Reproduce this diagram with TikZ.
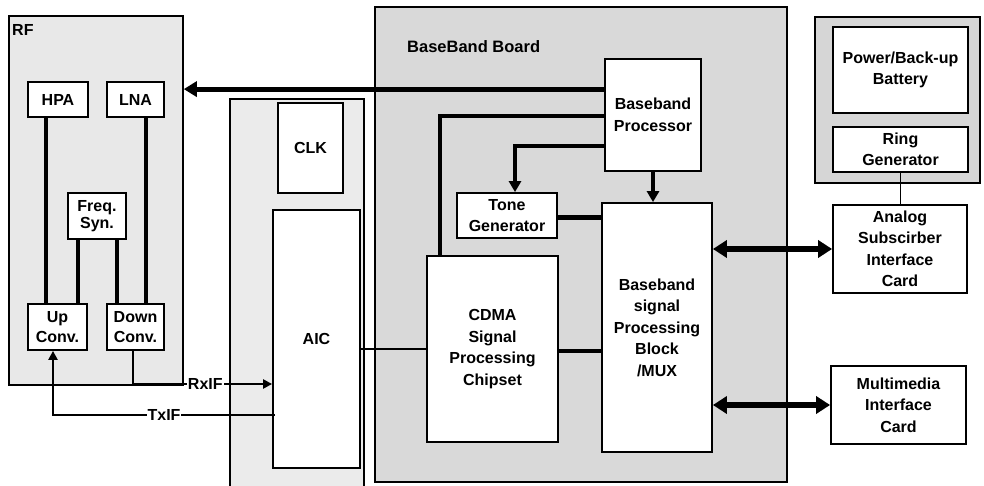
\documentclass[tikz,border=0pt]{standalone}
\usepackage{fontspec}
\setmainfont{Liberation Sans}
\usetikzlibrary{arrows.meta,calc}
\begin{document}
\begin{tikzpicture}[x=1pt,y=-1pt,
  board/.style={draw=black, line width=1.6pt, rectangle, inner sep=0pt},
  box/.style={draw=black, fill=white, line width=1.8pt, rectangle, inner sep=0pt, align=center, font=\fontsize{16}{21.5}\selectfont\bfseries},
  lbl/.style={inner sep=0pt, font=\fontsize{16}{20}\selectfont\bfseries},
  iflbl/.style={fill=white, inner sep=1pt, font=\fontsize{16}{20}\selectfont\bfseries},
  bigarrow/.style={line width=5pt, -{Triangle[length=13pt,width=15pt]}},
  dblarrow/.style={line width=5.5pt, {Triangle[length=14pt,width=17pt]}-{Triangle[length=14pt,width=17pt]}},
  midarrow/.style={line width=4pt, -{Triangle[length=11pt,width=12pt]}},
  thickln/.style={line width=4.5pt},
  medln/.style={line width=3.5pt},
  thinln/.style={line width=1.6pt},
  thinarrow/.style={line width=2.2pt, -{Triangle[length=9pt,width=9pt]}}
]
\useasboundingbox (0,0) rectangle (984,486);

% boards
\node[board, fill=black!9, minimum width=174pt, minimum height=369pt] (rf) at (96,200.5) {};
\node[board, fill=black!8, minimum width=134pt, minimum height=393pt] (aicb) at (297,295.5) {};
\node[board, fill=black!15, minimum width=412pt, minimum height=475pt] (bb) at (581,244.5) {};
\node[board, fill=black!16, minimum width=165pt, minimum height=166pt] (pwr) at (897.5,100) {};

\node[lbl, anchor=west] (rflbl) at (12,30) {RF};
\node[lbl, anchor=west, font=\fontsize{16.5}{20}\selectfont\bfseries] (bblbl) at (407,47) {BaseBand Board};

% RF boxes
\node[box, minimum width=60pt, minimum height=35pt] (hpa) at (58,99.5) {HPA};
\node[box, minimum width=57pt, minimum height=35pt] (lna) at (135.5,99.5) {LNA};
\node[box, minimum width=58pt, minimum height=46pt, font=\fontsize{16}{17.5}\selectfont\bfseries] (freq) at (97,216) {Freq.\\Syn.};
\node[box, minimum width=59pt, minimum height=46pt, font=\fontsize{16}{19.5}\selectfont\bfseries] (up) at (57.5,327) {Up\\Conv.};
\node[box, minimum width=57pt, minimum height=46pt, font=\fontsize{16}{19.5}\selectfont\bfseries] (down) at (135.5,327) {Down\\Conv.};

% AIC board boxes
\node[box, minimum width=65pt, minimum height=90pt] (clk) at (310.5,148) {CLK};
\node[box, minimum width=87pt, minimum height=258pt] (aic) at (316.5,339) {AIC};

% baseband boxes
\node[box, minimum width=96pt, minimum height=112pt] (bp) at (653,115) {Baseband\\Processor};
\node[box, minimum width=100pt, minimum height=45pt] (tone) at (507,215.5) {Tone\\Generator};
\node[box, minimum width=110pt, minimum height=249pt] (bsp) at (657,327.5) {Baseband\\signal\\Processing\\Block\\/MUX};
\node[box, minimum width=131pt, minimum height=186pt] (cdma) at (492.5,349) {CDMA\\Signal\\Processing\\Chipset};

% power board boxes
\node[box, minimum width=135pt, minimum height=86pt] (batt) at (900.5,70) {Power/Back-up\\Battery};
\node[box, minimum width=135pt, minimum height=45pt] (ring) at (900.5,149.5) {Ring\\Generator};
\node[box, minimum width=134pt, minimum height=88pt] (analog) at (900,249) {Analog\\Subscirber\\Interface\\Card};
\node[box, minimum width=135pt, minimum height=78pt] (mm) at (898.5,405) {Multimedia\\Interface\\Card};

% RF internal connectors
\draw[medln] ([xshift=-12pt]hpa.south) -- ([xshift=-12pt]hpa.south |- up.north);
\draw[thickln] ([xshift=10.5pt]lna.south) -- ([xshift=10.5pt]lna.south |- down.north);
\draw[thickln] ([xshift=-19pt]freq.south) -- ([xshift=-19pt]freq.south |- up.north);
\draw[thickln] ([xshift=20pt]freq.south) -- ([xshift=20pt]freq.south |- down.north);

% IF connectors
\coordinate (rxin) at ($(aic.west)+(0,45)$);
\draw[thinarrow] ([xshift=-2.5pt]down.south) |- node[pos=0.76, iflbl] (rxlbl) {RxIF} (rxin);
\coordinate (txout) at ($(aic.west)+(3,76)$);
\draw[thinarrow] (txout) -| node[pos=0.25, iflbl] (txlbl) {TxIF} ([xshift=-4.5pt]up.south);

% baseband connectors
\coordinate (bpa) at ($(bp.north west)+(0,31)$);
\coordinate (bpb) at ($(bp.north west)+(0,58)$);
\coordinate (bpc) at ($(bp.north west)+(0,88)$);
\draw[bigarrow] (bpa) -- (bpa -| rf.east);
\draw[thickln] (bpb) -| ([xshift=-52.5pt]cdma.north);
\draw[midarrow] (bpc) -| ([xshift=8pt]tone.north);
\draw[midarrow] (bp.south) -- (bp.south |- bsp.north);
\draw[thickln] ([yshift=-2pt]tone.east) -- ([yshift=-2pt]tone.east -| bsp.west);
\draw[thickln] ([yshift=-2pt]cdma.east) -- ([yshift=-2pt]cdma.east -| bsp.west);
\draw[thinln] (aic.east |- cdma.west) -- (cdma.west);

% right side connectors
\draw[thinln] (ring.south) -- (ring.south |- analog.north);
\draw[dblarrow] (bsp.east |- analog.west) -- (analog.west);
\draw[dblarrow] (bsp.east |- mm.west) -- (mm.west);
\end{tikzpicture}
\end{document}
